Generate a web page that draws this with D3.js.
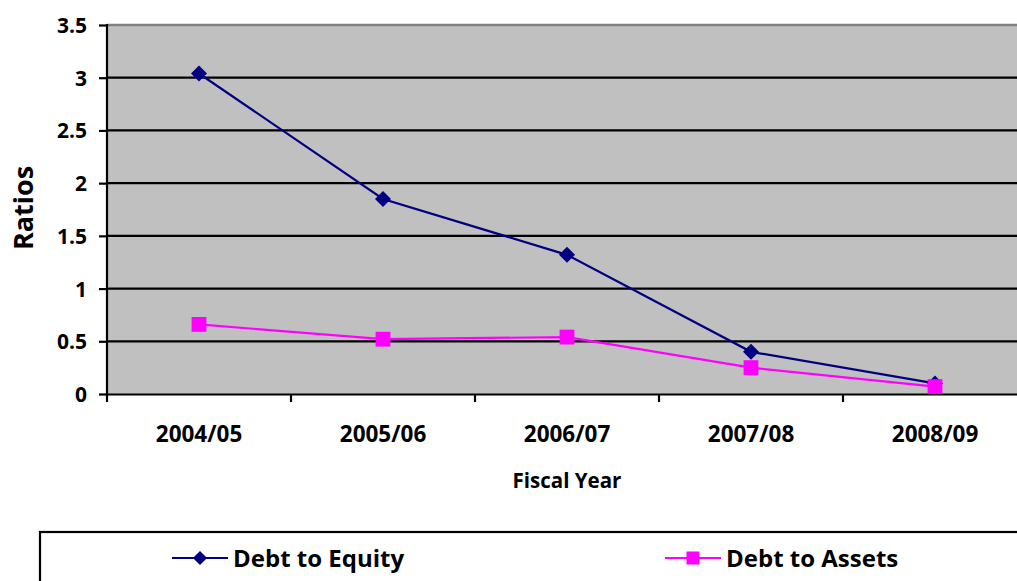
<!DOCTYPE html>
<html>
<head>
<meta charset="utf-8">
<script src="https://cdn.jsdelivr.net/npm/d3@7"></script>
<style>
  body { margin: 0; background: #fff; }
  svg text { font-family: "Open Sans", Lato, sans-serif; font-weight: bold; fill: #000; }
</style>
</head>
<body>
<svg class="chart"></svg>
<script>
// chart data
var years = ["2004/05", "2005/06", "2006/07", "2007/08", "2008/09"];
var debtEquity = [3.04, 1.85, 1.32, 0.40, 0.10];
var debtAssets = [0.66, 0.52, 0.54, 0.25, 0.07];
var yTicks = [0, 0.5, 1, 1.5, 2, 2.5, 3, 3.5];

var W = 1017, H = 581;
var plotLeft = 107, plotTop = 25, plotRight = 1027, plotBottom = 394;

var svg = d3.select(".chart").attr("width", W).attr("height", H);

var x = d3.scaleBand().domain(years).range([plotLeft, plotRight]);
var y = d3.scaleLinear().domain([0, 3.5]).range([plotBottom, plotTop]);

// plot background
svg.append("rect")
	.attr("x", plotLeft).attr("y", plotTop)
	.attr("width", plotRight - plotLeft).attr("height", plotBottom - plotTop)
	.attr("fill", "#c0c0c0");

// top border
svg.append("line")
	.attr("x1", plotLeft).attr("x2", plotRight)
	.attr("y1", plotTop).attr("y2", plotTop)
	.attr("stroke", "#808080").attr("stroke-width", 2.5);

// gridlines
svg.selectAll(".grid")
	.data(yTicks.filter(function(d) { return d > 0 && d < 3.5; }))
	.enter().append("line")
	.attr("x1", plotLeft).attr("x2", plotRight)
	.attr("y1", function(d) { return y(d); })
	.attr("y2", function(d) { return y(d); })
	.attr("stroke", "#000").attr("stroke-width", 2.2);

// y axis
var yAxis = svg.append("g")
	.attr("transform", "translate(" + plotLeft + ",0)")
	.call(d3.axisLeft(y).tickValues(yTicks).tickSize(8).tickPadding(12).tickFormat(d3.format("")));
yAxis.select(".domain").attr("stroke", "#000").attr("stroke-width", 2.2)
	.attr("d", "M0," + (plotTop - 1) + "V" + (plotBottom + 1));
yAxis.selectAll(".tick line").attr("stroke", "#000").attr("stroke-width", 2.2);
yAxis.selectAll(".tick text").style("font-size", "21px").attr("dy", "0.36em");

// x axis
var xAxis = svg.append("g")
	.attr("transform", "translate(0," + plotBottom + ")")
	.call(d3.axisBottom(x).tickSize(0).tickPadding(32));
xAxis.select(".domain").attr("stroke", "#000").attr("stroke-width", 2.2);
xAxis.selectAll(".tick text").style("font-size", "22.5px");
xAxis.selectAll(".cat-tick")
	.data(years)
	.enter().append("line")
	.attr("x1", function(d) { return x(d); })
	.attr("x2", function(d) { return x(d); })
	.attr("y1", 0).attr("y2", 8)
	.attr("stroke", "#000").attr("stroke-width", 2.2);

// axis titles
svg.append("text")
	.attr("x", 567).attr("y", 488)
	.attr("text-anchor", "middle")
	.style("font-size", "20.5px")
	.text("Fiscal Year");
svg.append("text")
	.attr("transform", "translate(33,208) rotate(-90)")
	.attr("text-anchor", "middle")
	.style("font-size", "27px")
	.text("Ratios");

// lines
var cx = function(d, i) { return x(years[i]) + x.bandwidth() / 2; };
var line = d3.line().x(cx).y(function(d) { return y(d); });

var series = [
	{ name: "Debt to Equity", values: debtEquity, color: "#000080", shape: d3.symbolSquare, rot: 45, size: 128, lsize: 100 },
	{ name: "Debt to Assets", values: debtAssets, color: "#ff00ff", shape: d3.symbolSquare, rot: 0, size: 220, lsize: 170 }
];

series.forEach(function(s) {
	svg.append("path")
		.attr("d", line(s.values))
		.attr("fill", "none")
		.attr("stroke", s.color)
		.attr("stroke-width", 2.2);
	svg.selectAll(null)
		.data(s.values)
		.enter().append("path")
		.attr("transform", function(d, i) { return "translate(" + cx(d, i) + "," + y(d) + ") rotate(" + s.rot + ")"; })
		.attr("d", d3.symbol().type(s.shape).size(s.size))
		.attr("fill", s.color);
});

// legend
svg.append("rect")
	.attr("x", 40).attr("y", 532)
	.attr("width", 1100).attr("height", 100)
	.attr("fill", "#fff").attr("stroke", "#000").attr("stroke-width", 2.2);

var legendX = [172, 665];
series.forEach(function(s, i) {
	var g = svg.append("g").attr("transform", "translate(" + legendX[i] + ",558)");
	g.append("line").attr("x1", 0).attr("x2", 56).attr("y1", 0).attr("y2", 0)
		.attr("stroke", s.color).attr("stroke-width", 2.2);
	g.append("path").attr("transform", "translate(28,0) rotate(" + s.rot + ")")
		.attr("d", d3.symbol().type(s.shape).size(s.lsize))
		.attr("fill", s.color);
	g.append("text").attr("x", 61).attr("y", 0).attr("dy", "0.36em")
		.style("font-size", "24px")
		.text(s.name);
});
</script>
</body>
</html>
